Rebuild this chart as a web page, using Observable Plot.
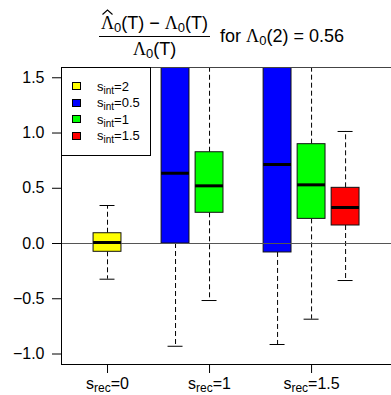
<!DOCTYPE html>
<html><head><meta charset="utf-8">
<script src="https://cdn.jsdelivr.net/npm/d3@7"></script>
<script src="https://cdn.jsdelivr.net/npm/@observablehq/plot@0.6"></script>
<style>
body{margin:0;background:#fff;font-family:"Liberation Sans",Arial,Helvetica,sans-serif;color:#000;}
#wrap{position:relative;width:391px;height:395px;overflow:hidden;background:#fff;}
#title{position:absolute;left:99px;top:13px;display:flex;align-items:center;font-size:18px;white-space:nowrap;}
.frac{display:inline-flex;flex-direction:column;align-items:center;}
.num{padding:0 2px 3px 2px;line-height:20px;}
.bar{border-top:1px solid #000;width:100%;}
.den{padding-top:2px;line-height:20px;}
.L{font-family:"Liberation Serif","DejaVu Serif",serif;font-size:18px;font-style:normal;}
.hat{position:relative;display:inline-block;}
.hat svg{position:absolute;left:0;top:-4px;}
.s0{font-size:13px;vertical-align:-3px;line-height:0;}
#for{margin-left:10px;}
#chart{position:absolute;left:0;top:60px;}
#legend{position:absolute;left:61px;top:67px;width:90px;height:89px;border:1px solid #000;background:#fff;box-sizing:border-box;font-size:13px;}
.row{position:absolute;left:10px;height:16px;display:flex;align-items:center;white-space:nowrap;}
.sw{width:9px;height:8px;border:1px solid #000;box-sizing:border-box;margin-right:16px;}
.sub{font-size:10px;vertical-align:-3px;line-height:0;}
</style></head><body>
<div id="wrap">
  <div id="title">
    <div class="frac">
      <div class="num"><span class="hat"><span class="L">Λ</span><svg width="13" height="6" viewBox="0 0 13 6"><polyline points="1.5,5.5 6.5,1 11.5,5.5" fill="none" stroke="black" stroke-width="1.1"/></svg></span><span class="s0">0</span>(T) − <span class="L">Λ</span><span class="s0">0</span>(T)</div>
      <div class="bar"></div>
      <div class="den"><span class="L">Λ</span><span class="s0">0</span>(T)</div>
    </div>
    <span id="for">for <span class="L">Λ</span><span class="s0">0</span>(2) = 0.56</span>
  </div>
  <div id="chart"></div>
  <div id="legend"></div>
</div>
<script>
// x groups (s_rec) and their tick positions (slot units)
const groupTicks = [0, 3, 6];
const groupLabels = ["0", "1", "1.5"];
// series (s_int)
const seriesNames = ["2", "0.5", "1", "1.5"];
const seriesColors = ["#FFFF00", "#0000FF", "#00FF00", "#FF0000"];
const seriesOffset = [0, -1, 0, 1];
// boxes: group index, series index, and five-number summaries
const boxGroup  = [0, 1, 1, 2, 2, 2];
const boxSeries = [0, 1, 2, 1, 2, 3];
const whiskerLow  = [-0.323, -0.930, -0.516, -0.914, -0.685, -0.335];
const quartile1   = [-0.075,  0.000,  0.278, -0.081,  0.223,  0.163];
const median      = [ 0.009,  0.636,  0.522,  0.715,  0.531,  0.326];
const quartile3   = [ 0.093,  2.400,  0.826,  2.600,  0.899,  0.504];
const whiskerHigh = [ 0.344,  4.500,  2.200,  4.800,  2.300,  1.014];
const yTicks = [-1.0, -0.5, 0.0, 0.5, 1.0, 1.5];

const boxes = boxGroup.map((g, i) => ({
  pos: groupTicks[g] + seriesOffset[boxSeries[i]],
  color: seriesColors[boxSeries[i]],
  lo: whiskerLow[i], q1: quartile1[i], med: median[i], q3: quartile3[i], hi: whiskerHigh[i]
}));
const hw = 0.41, cw = 0.22;

const plot = Plot.plot({
  width: 391, height: 335,
  marginLeft: 61, marginRight: 0, marginTop: 7, marginBottom: 31,
  x: {type: "linear", domain: [-1.353, 8.35]},
  y: {domain: [-1.095, 1.593]},
  style: {fontSize: "16px", fontFamily: "'Liberation Sans', Arial, Helvetica, sans-serif", background: "white", color: "black"},
  marks: [
    Plot.ruleX(boxes, {x: "pos", y1: "q3", y2: "hi", stroke: "black", strokeDasharray: "5,3", clip: true}),
    Plot.ruleX(boxes, {x: "pos", y1: "q1", y2: "lo", stroke: "black", strokeDasharray: "5,3", clip: true}),
    Plot.ruleY(boxes, {y: "hi", x1: d => d.pos - cw, x2: d => d.pos + cw, stroke: "black", clip: true}),
    Plot.ruleY(boxes, {y: "lo", x1: d => d.pos - cw, x2: d => d.pos + cw, stroke: "black", clip: true}),
    Plot.rect(boxes, {x1: d => d.pos - hw, x2: d => d.pos + hw, y1: "q1", y2: "q3", fill: d => d.color, stroke: "#111", clip: true}),
    Plot.ruleY([0], {stroke: "#555"}),
    Plot.ruleY(boxes, {y: "med", x1: d => d.pos - hw, x2: d => d.pos + hw, stroke: "black", strokeWidth: 3, clip: true}),
    Plot.frame({anchor: "top", stroke: "#444"}),
    Plot.frame({anchor: "left", stroke: "black"}),
    Plot.frame({anchor: "bottom", stroke: "black"}),
    Plot.axisY({ticks: yTicks, tickSize: 9, tickPadding: 8, tickFormat: d3.format(".1f"), label: null}),
    Plot.axisX({ticks: groupTicks, tickSize: 9, tickPadding: 4, tickFormat: t => groupLabels[groupTicks.indexOf(t)], label: null})
  ]
});
// rich labels: s_rec=value
plot.querySelectorAll('[aria-label="x-axis tick label"] text').forEach(t => {
  const v = t.textContent;
  t.textContent = "";
  const ns = "http://www.w3.org/2000/svg";
  const a = document.createElementNS(ns, "tspan"); a.textContent = "s";
  const b = document.createElementNS(ns, "tspan"); b.textContent = "rec"; b.setAttribute("font-size", "12px"); b.setAttribute("dy", "3");
  const c = document.createElementNS(ns, "tspan"); c.textContent = "=" + v; c.setAttribute("dy", "-3");
  t.append(a, b, c);
});
document.getElementById("chart").append(plot);

// legend
const legend = document.getElementById("legend");
seriesNames.forEach((n, i) => {
  const row = document.createElement("div");
  row.className = "row";
  row.style.top = (10 + i * 16.5) + "px";
  row.innerHTML = `<span class="sw" style="background:${seriesColors[i]}"></span><span>s<span class="sub">int</span>=${n}</span>`;
  legend.append(row);
});
</script>
</body></html>
